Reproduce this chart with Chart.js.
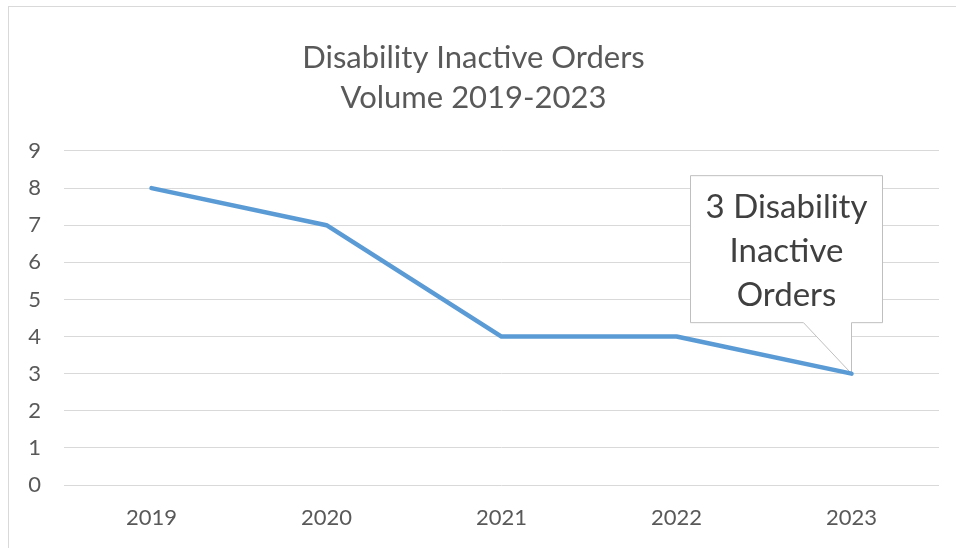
<!DOCTYPE html>
<html>
<head>
<meta charset="utf-8">
<script src="https://cdn.jsdelivr.net/npm/chart.js@4/dist/chart.umd.min.js"></script>
<style>
  html, body { margin: 0; padding: 0; background: #fff; }
  #wrap { position: relative; width: 956px; height: 548px; overflow: hidden; }
  #frame { position: absolute; left: 8px; top: 6px; width: 1000px; height: 600px;
           border-left: 1px solid #D9D9D9; border-top: 1px solid #D9D9D9; }
  canvas { position: absolute; left: 0; top: 0; }
</style>
</head>
<body>
<div id="wrap">
  <div id="frame"></div>
  <canvas id="chart" width="956" height="548"></canvas>
</div>
<script>
// datos del grafico
const years = ['2019', '2020', '2021', '2022', '2023'];
const orders = [8, 7, 4, 4, 3];
const titleLines = ['Disability Inactive Orders', 'Volume 2019-2023'];
const calloutLines = ['3 Disability', 'Inactive', 'Orders'];

const FONT = 'Lato, Carlito, Calibri, "Open Sans", sans-serif';

// globo de texto sobre el ultimo punto
const calloutPlugin = {
  id: 'callout',
  beforeDatasetsDraw(chart) {
    const meta = chart.getDatasetMeta(0);
    const pt = meta.data[meta.data.length - 1];
    if (!pt) return;
    const tx = pt.x, ty = pt.y;
    const left = tx - 161, right = tx + 31, top = ty - 198, bottom = ty - 51;
    const ctx = chart.ctx;
    ctx.save();
    ctx.beginPath();
    ctx.moveTo(left, top);
    ctx.lineTo(right, top);
    ctx.lineTo(right, bottom);
    ctx.lineTo(tx, bottom);
    ctx.lineTo(tx, ty);
    ctx.lineTo(tx - 48, bottom);
    ctx.lineTo(left, bottom);
    ctx.closePath();
    ctx.fillStyle = '#fff';
    ctx.fill();
    ctx.strokeStyle = '#BFBFBF';
    ctx.lineWidth = 1;
    ctx.stroke();
    ctx.fillStyle = '#404040';
    ctx.font = '33px ' + FONT;
    ctx.textAlign = 'center';
    ctx.textBaseline = 'middle';
    const cx = (left + right) / 2;
    calloutLines.forEach((t, i) => {
      ctx.fillText(t, cx, top + 32 + i * 44);
    });
    ctx.restore();
  }
};

new Chart(document.getElementById('chart'), {
  type: 'line',
  data: {
    labels: years,
    datasets: [{
      label: 'Orders',
      data: orders,
      borderColor: '#5B9BD5',
      borderWidth: 4.5,
      borderCapStyle: 'round',
      borderJoinStyle: 'round',
      pointRadius: 0,
      tension: 0,
      fill: false
    }]
  },
  options: {
    responsive: false,
    animation: false,
    layout: { padding: { left: 8, right: 17, top: 0, bottom: 0 } },
    plugins: {
      legend: { display: false },
      tooltip: { enabled: false },
      title: {
        display: true,
        text: titleLines,
        color: '#595959',
        font: { family: FONT, size: 31, weight: 'normal', lineHeight: 1.29 },
        padding: { top: 38, bottom: 33 }
      }
    },
    scales: {
      x: {
        offset: true,
        grid: { display: false, drawTicks: false },
        border: { display: false },
        ticks: { color: '#595959', font: { family: FONT, size: 22 }, padding: 20 },
        afterFit(scale) { scale.height = 63; }
      },
      y: {
        min: 0,
        max: 9,
        ticks: { stepSize: 1, color: '#595959', font: { family: FONT, size: 22 }, padding: 23 },
        grid: { color: '#D9D9D9', lineWidth: 1, drawTicks: false },
        border: { display: false },
        afterFit(scale) { scale.width = 56; }
      }
    }
  },
  plugins: [calloutPlugin]
});
</script>
</body>
</html>
